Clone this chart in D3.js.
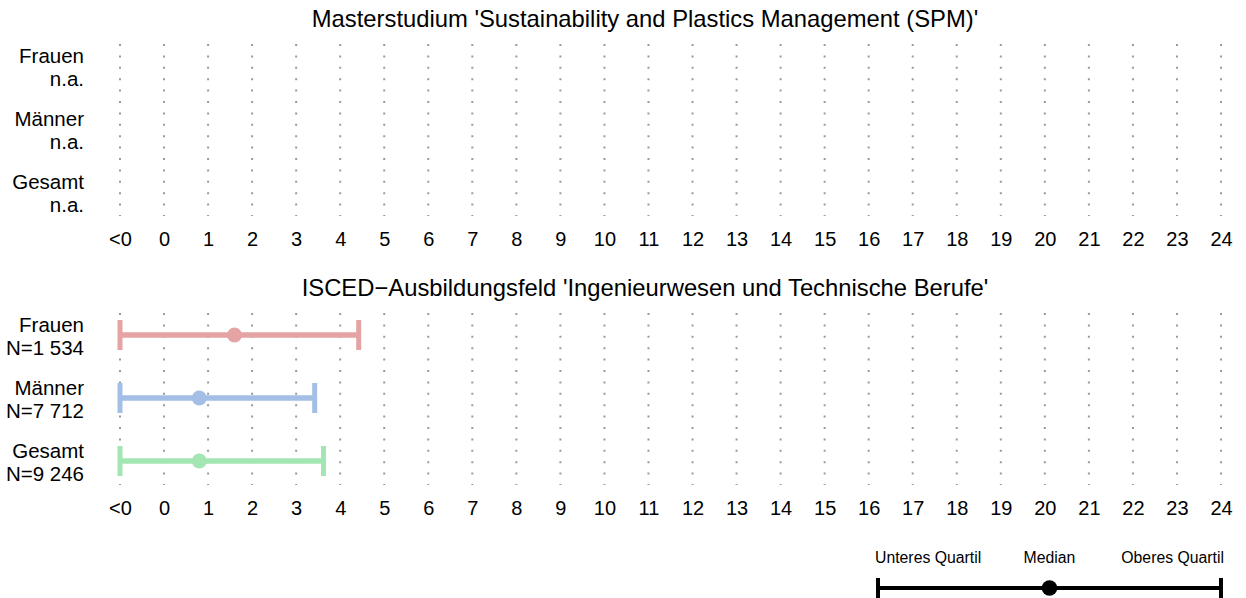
<!DOCTYPE html>
<html><head><meta charset="utf-8">
<script src="https://cdn.jsdelivr.net/npm/d3@7"></script>
<style>body{margin:0;background:#fff}svg{display:block;font-family:"Liberation Sans",Arial,sans-serif}</style>
</head><body><svg id="c" width="1246" height="598"></svg>
<script>
// ---- data ----
const groups = ["Frauen", "Männer", "Gesamt"];
const panelTitles = ["Masterstudium 'Sustainability and Plastics Management (SPM)'",
                     "ISCED\u2212Ausbildungsfeld 'Ingenieurwesen und Technische Berufe'"];
const topNotes = ["n.a.", "n.a.", "n.a."];
const bottomNotes = ["N=1 534", "N=7 712", "N=9 246"];
const q1Values = [-1, -1, -1];
const medianValues = [1.6, 0.8, 0.8];
const q3Values = [4.42, 3.42, 3.62];
const tickValues = [-1,0,1,2,3,4,5,6,7,8,9,10,11,12,13,14,15,16,17,18,19,20,21,22,23,24];
const tickLabels = ["<0","0","1","2","3","4","5","6","7","8","9","10","11","12","13","14","15","16","17","18","19","20","21","22","23","24"];
const colors = ["#e6a3a3", "#a3bfe6", "#a3e6b3"];
const legendLabels = ["Unteres Quartil", "Median", "Oberes Quartil"];

// ---- layout ----
const svg = d3.select("#c");
const x = d3.scaleLinear().domain([-1, 24]).range([120, 1221]);

const panels = [
  {title: panelTitles[0], titleY: 26.5, gridTop: 44, gridBottom: 216, rowTop: 35, axisY: 229, notes: topNotes, data: null},
  {title: panelTitles[1], titleY: 296, gridTop: 313, gridBottom: 485, rowTop: 303.5, axisY: 498,
   notes: bottomNotes, data: groups.map((g, i) => ({g, q1: q1Values[i], med: medianValues[i], q3: q3Values[i], color: colors[i]}))}
];

panels.forEach(p => {
  const y = d3.scaleBand().domain(groups).range([p.rowTop, p.rowTop + 189]);
  const g = svg.append("g");

  g.append("text").attr("x", 645).attr("y", p.titleY).attr("text-anchor", "middle")
    .attr("font-size", 23.8).attr("fill", "#000").text(p.title);

  // dotted grid
  g.append("g").selectAll("line").data(tickValues).join("line")
    .attr("x1", d => x(d)).attr("x2", d => x(d))
    .attr("y1", p.gridTop).attr("y2", p.gridBottom)
    .attr("stroke", "#9a9a9a").attr("stroke-width", 2)
    .attr("stroke-dasharray", "2,9.4");

  // row labels
  const lab = g.append("g");
  groups.forEach((name, i) => {
    const cy = y(name) + y.bandwidth() / 2;
    lab.append("text").attr("x", 84).attr("y", cy - 3.5).attr("text-anchor", "end")
      .attr("font-size", 20.5).text(name);
    lab.append("text").attr("x", 84).attr("y", cy + 19.5).attr("text-anchor", "end")
      .attr("font-size", 20.5).text(p.notes[i]);
  });

  // axis
  const ax = g.append("g").attr("transform", `translate(0,${p.axisY})`)
    .call(d3.axisBottom(x).tickValues(tickValues).tickFormat((d, i) => tickLabels[i]).tickSize(0).tickPadding(0));
  ax.select(".domain").remove();
  ax.selectAll("text").attr("font-size", 20).attr("font-family", "Liberation Sans, Arial, sans-serif")
    .attr("fill", "#000").attr("dy", "0.71em").attr("y", 3);

  if (p.data) {
    const bars = g.append("g").selectAll("g").data(p.data).join("g")
      .attr("transform", d => `translate(0,${y(d.g) + y.bandwidth() / 2})`);
    bars.append("line").attr("x1", d => x(d.q1)).attr("x2", d => x(d.q3))
      .attr("stroke", d => d.color).attr("stroke-width", 5.5);
    bars.append("line").attr("x1", d => x(d.q1)).attr("x2", d => x(d.q1)).attr("y1", -15).attr("y2", 15)
      .attr("stroke", d => d.color).attr("stroke-width", 5);
    bars.append("line").attr("x1", d => x(d.q3)).attr("x2", d => x(d.q3)).attr("y1", -15).attr("y2", 15)
      .attr("stroke", d => d.color).attr("stroke-width", 5);
    bars.append("circle").attr("cx", d => x(d.med)).attr("r", 7.5).attr("fill", d => d.color);
  }
});

// legend
const lx = d3.scaleLinear().domain([0, 1]).range([878, 1221]);
const lg = svg.append("g");
const ly = 588;
lg.append("line").attr("x1", lx(0)).attr("x2", lx(1)).attr("y1", ly).attr("y2", ly).attr("stroke", "#000").attr("stroke-width", 4);
[0, 1].forEach(v => lg.append("line").attr("x1", lx(v)).attr("x2", lx(v)).attr("y1", ly - 10).attr("y2", ly + 12).attr("stroke", "#000").attr("stroke-width", 4));
lg.append("circle").attr("cx", lx(0.5)).attr("cy", ly).attr("r", 7.8).attr("fill", "#000");
lg.append("text").attr("x", lx(0) - 3).attr("y", 563).attr("text-anchor", "start").attr("font-size", 15.8).text(legendLabels[0]);
lg.append("text").attr("x", lx(0.5)).attr("y", 563).attr("text-anchor", "middle").attr("font-size", 15.8).text(legendLabels[1]);
lg.append("text").attr("x", lx(1) + 3).attr("y", 563).attr("text-anchor", "end").attr("font-size", 15.8).text(legendLabels[2]);
</script></body></html>
